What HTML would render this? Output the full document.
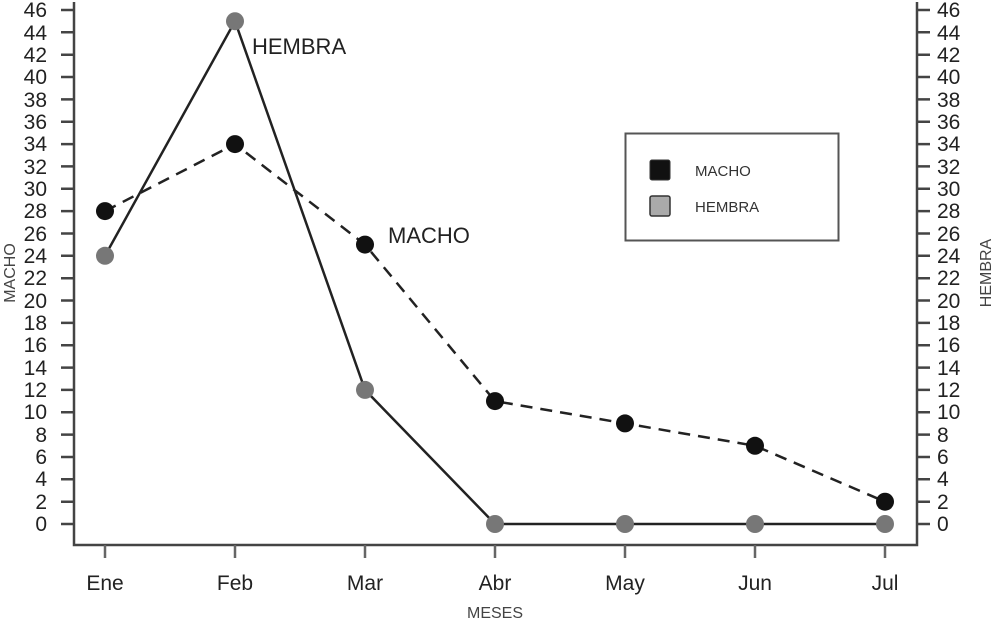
<!DOCTYPE html>
<html><head><meta charset="utf-8"><style>
html,body{margin:0;padding:0;background:#fff;}
svg{display:block;font-family:"Liberation Sans",sans-serif;}
.l{font-size:21px;fill:#222;text-anchor:end;}
.r{font-size:21px;fill:#222;text-anchor:start;}
</style></head><body>
<svg width="994" height="622" viewBox="0 0 994 622">
<g stroke="#444" stroke-width="2.5" fill="none">
<path d="M74 2V545H917V2"/>
<path d="M61 524H74M61 501.7H74M61 479.3H74M61 457H74M61 434.6H74M61 412.3H74M61 389.9H74M61 367.6H74M61 345.2H74M61 322.9H74M61 300.5H74M61 278.2H74M61 255.8H74M61 233.5H74M61 211.1H74M61 188.8H74M61 166.4H74M61 144.1H74M61 121.7H74M61 99.4H74M61 77H74M61 54.7H74M61 32.3H74M61 10H74"/>
<path d="M917 524H930M917 501.7H930M917 479.3H930M917 457H930M917 434.6H930M917 412.3H930M917 389.9H930M917 367.6H930M917 345.2H930M917 322.9H930M917 300.5H930M917 278.2H930M917 255.8H930M917 233.5H930M917 211.1H930M917 188.8H930M917 166.4H930M917 144.1H930M917 121.7H930M917 99.4H930M917 77H930M917 54.7H930M917 32.3H930M917 10H930"/>
<path d="M105 545V558M235 545V558M365 545V558M495 545V558M625 545V558M755 545V558M885 545V558" stroke="#666"/>
</g>
<g class="l">
<text x="47" y="531">0</text><text x="47" y="509">2</text><text x="47" y="486">4</text><text x="47" y="464">6</text><text x="47" y="442">8</text><text x="47" y="419">10</text><text x="47" y="397">12</text><text x="47" y="375">14</text><text x="47" y="352">16</text><text x="47" y="330">18</text><text x="47" y="308">20</text><text x="47" y="285">22</text><text x="47" y="263">24</text><text x="47" y="241">26</text><text x="47" y="218">28</text><text x="47" y="196">30</text><text x="47" y="174">32</text><text x="47" y="151">34</text><text x="47" y="129">36</text><text x="47" y="107">38</text><text x="47" y="84">40</text><text x="47" y="62">42</text><text x="47" y="40">44</text><text x="47" y="17">46</text>
</g>
<g class="r">
<text x="937" y="531">0</text><text x="937" y="509">2</text><text x="937" y="486">4</text><text x="937" y="464">6</text><text x="937" y="442">8</text><text x="937" y="419">10</text><text x="937" y="397">12</text><text x="937" y="375">14</text><text x="937" y="352">16</text><text x="937" y="330">18</text><text x="937" y="308">20</text><text x="937" y="285">22</text><text x="937" y="263">24</text><text x="937" y="241">26</text><text x="937" y="218">28</text><text x="937" y="196">30</text><text x="937" y="174">32</text><text x="937" y="151">34</text><text x="937" y="129">36</text><text x="937" y="107">38</text><text x="937" y="84">40</text><text x="937" y="62">42</text><text x="937" y="40">44</text><text x="937" y="17">46</text>
</g>
<g font-size="21" fill="#222" text-anchor="middle">
<text x="105" y="590">Ene</text><text x="235" y="590">Feb</text><text x="365" y="590">Mar</text><text x="495" y="590">Abr</text><text x="625" y="590">May</text><text x="755" y="590">Jun</text><text x="885" y="590">Jul</text>
</g>
<text x="495" y="618" font-size="16" fill="#444" text-anchor="middle">MESES</text>
<text transform="translate(15,273) rotate(-90)" font-size="16" fill="#444" text-anchor="middle">MACHO</text>
<text transform="translate(991,273) rotate(-90)" font-size="16" fill="#444" text-anchor="middle">HEMBRA</text>
<polyline points="105,255.8 235,21.2 365,389.9 495,524 625,524 755,524 885,524" fill="none" stroke="#222" stroke-width="2.5"/>
<polyline points="105,211.1 235,144.1 365,244.6 495,401.1 625,423.4 755,445.8 885,501.7" fill="none" stroke="#222" stroke-width="2.5" stroke-dasharray="12,8"/>
<g fill="#777">
<circle cx="105" cy="255.8" r="9"/><circle cx="235" cy="21.2" r="9"/><circle cx="365" cy="389.9" r="9"/><circle cx="495" cy="524" r="9"/><circle cx="625" cy="524" r="9"/><circle cx="755" cy="524" r="9"/><circle cx="885" cy="524" r="9"/>
</g>
<g fill="#111">
<circle cx="105" cy="211.1" r="9"/><circle cx="235" cy="144.1" r="9"/><circle cx="365" cy="244.6" r="9"/><circle cx="495" cy="401.1" r="9"/><circle cx="625" cy="423.4" r="9"/><circle cx="755" cy="445.8" r="9"/><circle cx="885" cy="501.7" r="9"/>
</g>
<text x="252" y="54" font-size="22" fill="#222">HEMBRA</text>
<text x="388" y="243" font-size="22" fill="#222">MACHO</text>
<rect x="625.5" y="133.5" width="213" height="107" fill="#fff" stroke="#555" stroke-width="2"/>
<rect x="650" y="160" width="20" height="20" rx="2" fill="#111" stroke="#333"/>
<rect x="650" y="196" width="20" height="20" rx="2" fill="#aaa" stroke="#333" stroke-width="1.5"/>
<text x="695" y="176" font-size="15" fill="#333">MACHO</text>
<text x="695" y="212" font-size="15" fill="#333">HEMBRA</text>
</svg>
</body></html>
